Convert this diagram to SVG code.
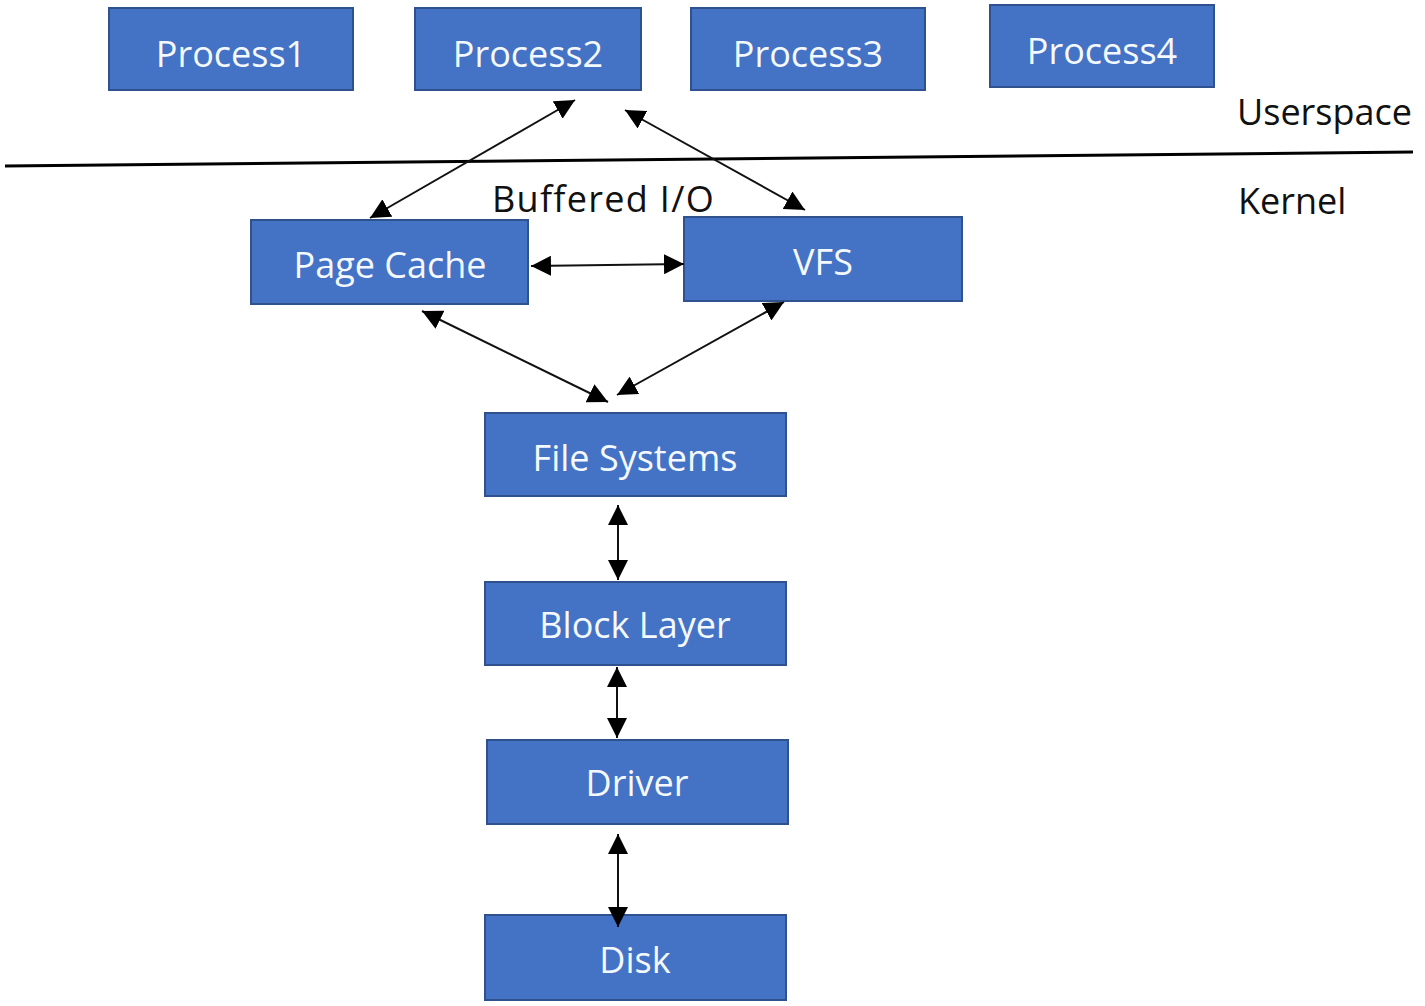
<svg xmlns="http://www.w3.org/2000/svg" width="1425" height="1006" viewBox="0 0 1425 1006">
<style>
.box{fill:#4472C4;stroke:#2F528F;stroke-width:2}
.lbl{font-family:"Open Sans",Lato,sans-serif;font-size:36px;fill:#F4F8FF;text-anchor:middle}
.txt{font-family:"Open Sans",Lato,sans-serif;font-size:36px;fill:#111}
.con{stroke:#111;stroke-width:2;fill:none;marker-start:url(#ah);marker-end:url(#ah)}
</style>
<defs>
<marker id="ah" viewBox="0 0 10 10" refX="10" refY="5" markerWidth="20" markerHeight="20" markerUnits="userSpaceOnUse" orient="auto-start-reverse">
<path d="M0,0 L10,5 L0,10 z" fill="#000"/>
</marker>
</defs>
<rect width="1425" height="1006" fill="#fff"/>
<g id="divider"><line x1="5" y1="166" x2="1413" y2="152" stroke="#000" stroke-width="3"/></g>
<g id="labels">
<text class="txt" x="1237" y="125">Userspace</text>
<text class="txt" x="1238" y="214">Kernel</text>
<text class="txt" x="492" y="212" letter-spacing="1.3">Buffered I/O</text>
</g>
<g id="process1"><rect class="box" x="109" y="8" width="244" height="82"/><text class="lbl" x="231" y="67">Process1</text></g>
<g id="process2"><rect class="box" x="415" y="8" width="226" height="82"/><text class="lbl" x="528" y="67">Process2</text></g>
<g id="process3"><rect class="box" x="691" y="8" width="234" height="82"/><text class="lbl" x="808" y="67">Process3</text></g>
<g id="process4"><rect class="box" x="990" y="5" width="224" height="82"/><text class="lbl" x="1102" y="64">Process4</text></g>
<g id="pagecache"><rect class="box" x="251" y="220" width="277" height="84"/><text class="lbl" x="390" y="278">Page Cache</text></g>
<g id="vfs"><rect class="box" x="684" y="217" width="278" height="84"/><text class="lbl" x="823" y="275">VFS</text></g>
<g id="filesystems"><rect class="box" x="485" y="413" width="301" height="83"/><text class="lbl" x="635" y="471">File Systems</text></g>
<g id="blocklayer"><rect class="box" x="485" y="582" width="301" height="83"/><text class="lbl" x="635" y="638">Block Layer</text></g>
<g id="driver"><rect class="box" x="487" y="740" width="301" height="84"/><text class="lbl" x="637" y="796">Driver</text></g>
<g id="disk"><rect class="box" x="485" y="915" width="301" height="85"/><text class="lbl" x="635" y="973">Disk</text></g>
<g id="connectors">
<line class="con" x1="575" y1="100" x2="370" y2="218"/>
<line class="con" x1="625" y1="110" x2="805" y2="210"/>
<line class="con" x1="531" y1="266" x2="684" y2="264"/>
<line class="con" x1="422" y1="311" x2="608" y2="402"/>
<line class="con" x1="784" y1="302" x2="617" y2="395"/>
<line class="con" x1="618" y1="505" x2="618" y2="580"/>
<line class="con" x1="617" y1="667" x2="617" y2="738"/>
<line class="con" x1="618" y1="834" x2="618" y2="927"/>
</g>
</svg>
